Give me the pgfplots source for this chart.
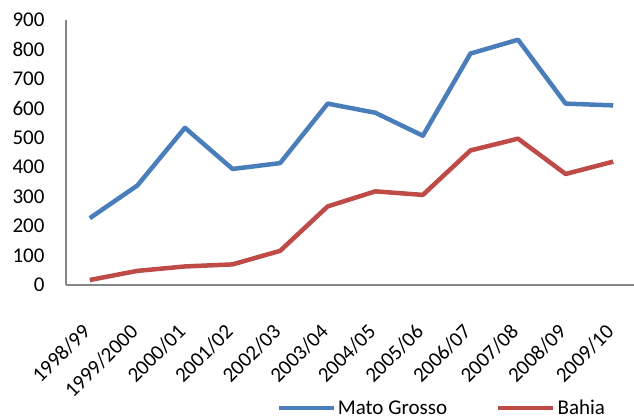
\documentclass[border=0pt]{standalone}
\usepackage{pgfplots}
\pgfplotsset{compat=1.18}
\usepackage{fontspec}
\setmainfont{Carlito}
\definecolor{mgblue}{HTML}{4A7EBB}
\definecolor{bared}{HTML}{BE4B48}
\definecolor{axgray}{HTML}{868686}
\begin{document}
\begin{tikzpicture}[x=1bp,y=1bp]
\path[use as bounding box] (0,0) rectangle (634,417);
\begin{axis}[
  at={(66bp,132bp)}, anchor=south west,
  scale only axis, width=571bp, height=265bp,
  xmin=-0.5, xmax=11.5, ymin=0, ymax=900,
  axis lines=left, axis line style={-, draw=axgray, line width=1.5bp},
  major tick length=0pt,
  ytick={0,100,...,900},
  xtick={0,...,11},
  xticklabels={1998/99,1999/2000,2000/01,2001/02,2002/03,2003/04,2004/05,2005/06,2006/07,2007/08,2008/09,2009/10},
  /pgf/number format/assume math mode=true,
  tick label style={font=\fontsize{21bp}{25bp}\selectfont, text=black},
  yticklabel style={xshift=-18bp},
  xticklabel style={xshift=-3bp, yshift=-43bp, rotate=45, anchor=east, inner sep=0pt},
  legend style={at={(0.368,-0.464)}, anchor=west, draw=none, inner sep=0pt,
     font=\fontsize{21bp}{25bp}\selectfont, legend cell align=left,
     nodes={inner sep=2bp},
     /tikz/every even column/.append style={column sep=47bp}},
  legend columns=2,
  legend image code/.code={\draw[#1] (0bp,0bp) -- (55bp,0bp);},
  clip=false,
]
\addplot[mgblue, line width=4.5bp, line join=round] coordinates {
(0,227) (1,338) (2,534) (3,394) (4,414) (5,616) (6,585) (7,507) (8,786) (9,833) (10,616) (11,610)};
\addlegendentry{Mato Grosso}
\addplot[bared, line width=4.5bp, line join=round] coordinates {
(0,17) (1,48) (2,63) (3,70) (4,116) (5,267) (6,318) (7,306) (8,457) (9,497) (10,377) (11,419)};
\addlegendentry{Bahia}
\end{axis}
\end{tikzpicture}
\end{document}
